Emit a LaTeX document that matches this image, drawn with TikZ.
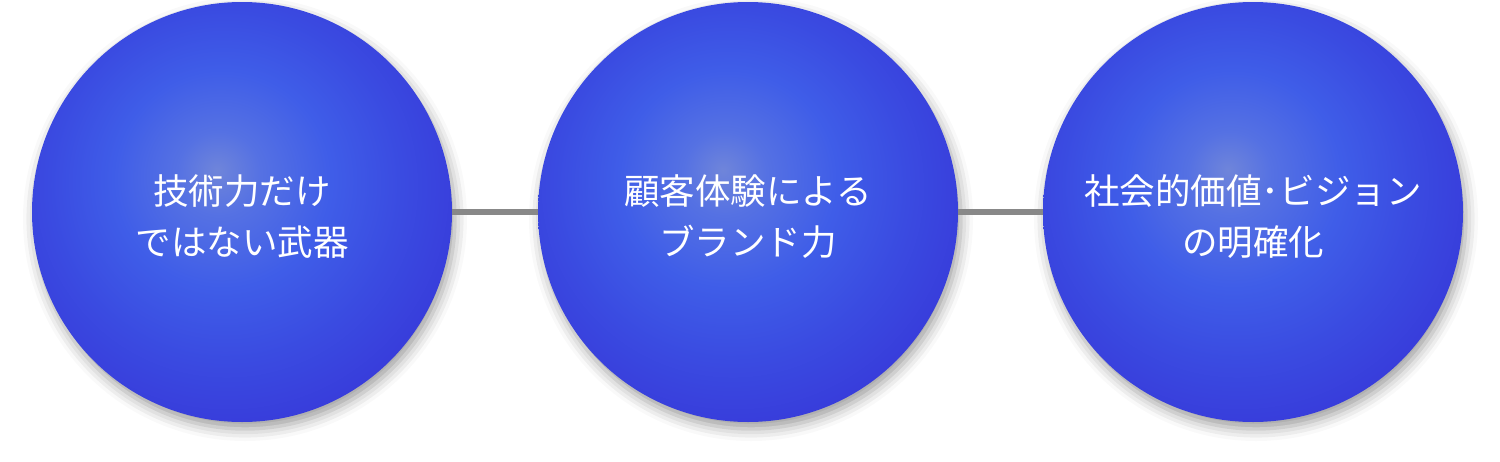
\documentclass[tikz,border=0pt]{standalone}
\usepackage{fontspec}
\newfontfamily\jp{Noto Sans CJK JP}
\usetikzlibrary{shadows.blur}
\definecolor{bc0}{HTML}{6F85DA}
\definecolor{bc1}{HTML}{5571E3}
\definecolor{bc2}{HTML}{3F5DE8}
\definecolor{bc3}{HTML}{3A4BE1}
\definecolor{bc4}{HTML}{383DDB}
\definecolor{bc5}{HTML}{3434D6}
\definecolor{conncol}{HTML}{888888}
\pgfdeclareradialshading{ball}{\pgfpoint{-3bp}{5bp}}{color(0bp)=(bc0); color(5bp)=(bc1); color(13bp)=(bc2); color(21bp)=(bc3); color(28bp)=(bc4); color(36bp)=(bc5); color(60bp)=(bc5)}
\tikzset{
  ballnode/.style={circle, minimum size=420pt, inner sep=0pt, shading=ball,
    blur shadow={shadow xshift=3pt, shadow yshift=-7pt, shadow blur radius=12pt, shadow opacity=38}},
  balltext/.style={text=white, align=center, font=\jp\fontsize{35.5}{51}\selectfont},
  conn/.style={line width=6pt, draw=conncol}
}
\begin{document}
\begin{tikzpicture}[x=1pt,y=-1pt]
\useasboundingbox (0,0) rectangle (1500,461);
\node[ballnode] (c1) at (242,212) {};
\node[ballnode] (c2) at (748,212) {};
\node[ballnode] (c3) at (1253,212) {};
\draw[conn] (c1.east) -- (c2.west);
\draw[conn] (c2.east) -- (c3.west);
\node[balltext] (t1) at (242,217) {技術力だけ\\ではない武器};
\node[balltext] (t2) at (748,217) {顧客体験による\\ブランド力};
\node[balltext] (t3) at (1253,217) {社会的価値･ビジョン\\の明確化};
\end{tikzpicture}
\end{document}
